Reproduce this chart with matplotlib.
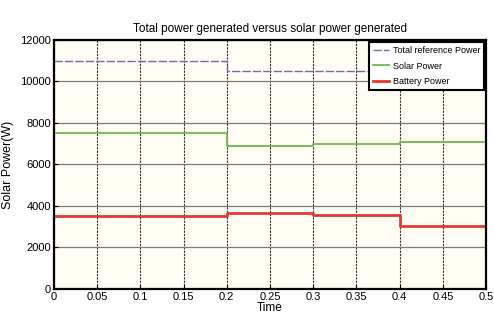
import matplotlib.pyplot as plt

# step boundaries (s) and power levels (W) for each interval
t_edges = [0, 0.2, 0.3, 0.4, 0.5]
total_ref = [11000, 10500, 10500, 10500]
solar = [7500, 6900, 7000, 7100]
battery = [3500, 3650, 3550, 3050]

xticks = [0, 0.05, 0.1, 0.15, 0.2, 0.25, 0.3, 0.35, 0.4, 0.45, 0.5]
xtick_labels = ['0', '0.05', '0.1', '0.15', '0.2', '0.25', '0.3', '0.35', '0.4', '0.45', '0.5']
yticks = [0, 2000, 4000, 6000, 8000, 10000, 12000]

plt.rcParams['font.family'] = ['Liberation Sans', 'DejaVu Sans']


def steps(edges, vals):
    xs, ys = [], []
    for i, v in enumerate(vals):
        xs += [edges[i], edges[i + 1]]
        ys += [v, v]
    return xs, ys


fig = plt.figure(figsize=(4.94, 3.25), dpi=100)
ax = fig.add_axes([0.109, 0.111, 0.875, 0.766])
ax.set_facecolor('#fffdf4')

x, y = steps(t_edges, total_ref)
ax.plot(x, y, color='#6b6fb0', lw=1.0, dashes=(6, 1.5), label='Total reference Power')
x, y = steps(t_edges, solar)
ax.plot(x, y, color='#72b84e', lw=1.3, label='Solar Power')
x, y = steps(t_edges, battery)
ax.plot(x, y, color='#e23a35', lw=2.0, label='Battery Power')

ax.set_xlim(0, 0.5)
ax.set_ylim(0, 12000)
ax.set_xticks(xticks)
ax.set_xticklabels(xtick_labels)
ax.set_yticks(yticks)
ax.grid(axis='y', color='#7a7a7a', lw=0.9)
ax.grid(axis='x', color='#333333', lw=0.8, ls=(0, (2, 1)))
ax.tick_params(direction='in', length=3, labelsize=8, pad=2)
for s in ax.spines.values():
    s.set_linewidth(1.6)

ax.set_title('Total power generated versus solar power generated', fontsize=8.5, pad=6)
ax.set_xlabel('Time', fontsize=8.5, labelpad=0)
ax.set_ylabel('Solar Power(W)', fontsize=9)
ax.yaxis.set_label_coords(-0.092, 0.5)

leg = ax.legend(loc='upper right', prop={'size': 6.5},
                fancybox=False, framealpha=1, edgecolor='black',
                borderaxespad=0.2, handlelength=1.8, labelspacing=0.75,
                borderpad=0.45, handletextpad=0.4)
leg.get_frame().set_linewidth(1.5)

fig.savefig('out.png', dpi=100)
